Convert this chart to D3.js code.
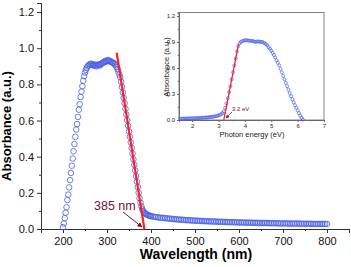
<!DOCTYPE html>
<html>
<head>
<meta charset="utf-8">
<script src="https://cdn.jsdelivr.net/npm/d3@7"></script>
<style>
  body { margin: 0; background: #fff; }
  svg { display: block; font-family: "Liberation Sans", Arial, sans-serif; }
</style>
</head>
<body>
<div id="container"></div>
<script>
// main spectrum, wavelength (nm) vs absorbance, split by region
var riseNm = [200, 202, 204, 206, 208, 210, 212, 214, 216, 218, 220, 222, 224, 226, 228, 230, 232, 234, 236, 238,
  240, 242, 244, 246, 248, 250, 252, 254, 256, 258, 260]
var riseAbs = [0.01, 0.03, 0.06, 0.09, 0.12, 0.16, 0.19, 0.23, 0.27, 0.31, 0.35, 0.39, 0.43, 0.47, 0.51, 0.55, 0.58, 0.62, 0.66, 0.69,
  0.73, 0.76, 0.79, 0.82, 0.845, 0.865, 0.88, 0.89, 0.90, 0.905, 0.91]

var plateauNm = [262, 264, 266, 268, 270, 272, 274, 276, 278, 280, 282, 284, 286, 288, 290, 292, 294, 296, 298, 300,
  302, 304, 306, 308, 310, 312, 314, 316, 318, 320, 322, 324, 326]
var plateauAbs = [0.91, 0.915, 0.91, 0.905, 0.905, 0.91, 0.905, 0.90, 0.905, 0.91, 0.91, 0.905, 0.91, 0.915, 0.92, 0.92, 0.925, 0.93, 0.925, 0.93,
  0.935, 0.93, 0.93, 0.925, 0.925, 0.92, 0.92, 0.915, 0.91, 0.905, 0.895, 0.885, 0.87]

var fallNm = [328, 330, 332, 334, 336, 338, 340, 342, 344, 346, 348, 350, 352, 354, 356, 358, 360, 362, 364, 366,
  368, 370, 372, 374, 376, 378, 380, 382, 384, 386, 388, 390, 392, 394, 396, 398, 400]
var fallAbs = [0.855, 0.84, 0.815, 0.785, 0.755, 0.725, 0.695, 0.665, 0.633, 0.602, 0.571, 0.54, 0.51, 0.479, 0.448, 0.417, 0.386, 0.355, 0.324, 0.293,
  0.262, 0.232, 0.20, 0.17, 0.145, 0.125, 0.11, 0.10, 0.093, 0.088, 0.084, 0.081, 0.078, 0.076, 0.074, 0.072, 0.071]

var tailNm = [404, 408, 412, 416, 420, 424, 428, 432, 436, 440, 444, 448, 452, 456, 460, 464, 468, 472, 476, 480,
  484, 488, 492, 496, 500, 504, 508, 512, 516, 520, 524, 528, 532, 536, 540, 544, 548, 552, 556, 560,
  564, 568, 572, 576, 580, 584, 588, 592, 596, 600, 604, 608, 612, 616, 620, 624, 628, 632, 636, 640,
  644, 648, 652, 656, 660, 664, 668, 672, 676, 680, 684, 688, 692, 696, 700, 704, 708, 712, 716, 720,
  724, 728, 732, 736, 740, 744, 748, 752, 756, 760, 764, 768, 772, 776, 780, 784, 788, 792, 796, 800]
var tailAbs = [0.069, 0.067, 0.066, 0.064, 0.063, 0.062, 0.061, 0.060, 0.059, 0.058, 0.057, 0.056, 0.055, 0.054, 0.053, 0.052, 0.052, 0.051, 0.050, 0.049,
  0.049, 0.048, 0.047, 0.047, 0.046, 0.046, 0.045, 0.045, 0.044, 0.044, 0.043, 0.043, 0.042, 0.042, 0.042, 0.041, 0.041, 0.040, 0.040, 0.040,
  0.039, 0.039, 0.039, 0.038, 0.038, 0.038, 0.037, 0.037, 0.037, 0.036, 0.036, 0.036, 0.036, 0.035, 0.035, 0.035, 0.035, 0.034, 0.034, 0.034,
  0.034, 0.033, 0.033, 0.033, 0.033, 0.033, 0.032, 0.032, 0.032, 0.032, 0.032, 0.031, 0.031, 0.031, 0.031, 0.031, 0.031, 0.030, 0.030, 0.030,
  0.030, 0.030, 0.030, 0.030, 0.029, 0.029, 0.029, 0.029, 0.029, 0.029, 0.029, 0.028, 0.028, 0.028, 0.028, 0.028, 0.028, 0.028, 0.028, 0.028]

// inset: photon energy (eV) vs absorbance
var lowEv = [1.55, 1.60, 1.65, 1.70, 1.75, 1.80, 1.85, 1.90, 1.95, 2.00, 2.05, 2.10, 2.15, 2.20, 2.25, 2.30, 2.35, 2.40, 2.45, 2.50,
  2.55, 2.60, 2.65, 2.70, 2.75, 2.80, 2.85, 2.90, 2.95, 3.00, 3.05, 3.10, 3.15]
var lowAbs = [0.015, 0.015, 0.016, 0.016, 0.017, 0.017, 0.018, 0.018, 0.019, 0.019, 0.020, 0.020, 0.021, 0.022, 0.023, 0.024, 0.025, 0.026, 0.027, 0.028,
  0.029, 0.031, 0.032, 0.034, 0.036, 0.038, 0.041, 0.044, 0.048, 0.053, 0.059, 0.067, 0.080]
var edgeEv = [3.20, 3.25, 3.30, 3.35, 3.40, 3.45, 3.50, 3.55, 3.60, 3.65, 3.70, 3.75, 3.80, 3.85, 3.90]
var edgeAbs = [0.10, 0.14, 0.19, 0.25, 0.32, 0.39, 0.47, 0.55, 0.63, 0.71, 0.79, 0.85, 0.885, 0.90, 0.91]
var highEv = [3.95, 4.00, 4.05, 4.10, 4.15, 4.20, 4.25, 4.30, 4.35, 4.40, 4.45, 4.50, 4.55, 4.60, 4.65, 4.70, 4.75, 4.80,
  4.85, 4.90, 4.95, 5.00, 5.05, 5.10, 5.15, 5.20, 5.25, 5.30, 5.35, 5.40, 5.45, 5.50, 5.55, 5.60, 5.65, 5.70,
  5.75, 5.80, 5.85, 5.90, 5.95, 6.00, 6.05, 6.10, 6.15, 6.20]
var highAbs = [0.915, 0.92, 0.92, 0.918, 0.915, 0.915, 0.912, 0.91, 0.905, 0.90, 0.905, 0.905, 0.905, 0.90, 0.90, 0.895, 0.885, 0.875,
  0.86, 0.84, 0.82, 0.80, 0.775, 0.75, 0.72, 0.69, 0.66, 0.63, 0.59, 0.55, 0.51, 0.47, 0.43, 0.39, 0.35, 0.31,
  0.275, 0.24, 0.205, 0.17, 0.14, 0.11, 0.08, 0.05, 0.025, 0.005]

var mainTicksX = [200, 300, 400, 500, 600, 700, 800]
var mainMinorX = [150, 250, 350, 450, 550, 650, 750, 850]
var mainTicksY = [0.0, 0.2, 0.4, 0.6, 0.8, 1.0, 1.2]
var mainMinorY = [0.1, 0.3, 0.5, 0.7, 0.9, 1.1]
var insetTicksX = [2, 3, 4, 5, 6, 7]
var insetMinorX = [2.5, 3.5, 4.5, 5.5, 6.5]
var insetTicksY = [0.0, 0.3, 0.6, 0.9, 1.2]
var insetMinorY = [0.15, 0.45, 0.75, 1.05]

// fitted tangent lines at the band edge
var edgeLine = [{x: 322, y: 0.975}, {x: 385, y: 0}]
var insetEdgeLine = [{x: 3.2, y: 0}, {x: 3.76, y: 0.88}]

var W = 351, H = 267
var blue = '#4a5ee6', red = '#ff2222', maroon = '#7a1035'

var mainPts = d3.zip(riseNm.concat(plateauNm, fallNm, tailNm), riseAbs.concat(plateauAbs, fallAbs, tailAbs))
var insetPts = d3.zip(lowEv.concat(edgeEv, highEv), lowAbs.concat(edgeAbs, highAbs))

var svg = d3.select('#container').append('svg')
  .attr('width', W).attr('height', H)

svg.append('defs').append('marker')
  .attr('id', 'arr').attr('viewBox', '0 0 10 10')
  .attr('refX', 9).attr('refY', 5)
  .attr('markerWidth', 5).attr('markerHeight', 5)
  .attr('orient', 'auto')
  .append('path').attr('d', 'M0,0 L10,5 L0,10 z').attr('fill', maroon)

// ---- main chart ----
var x = d3.scaleLinear().domain([150, 850]).range([41, 349])
var y = d3.scaleLinear().domain([0, 1.25]).range([229, 3])

var xAxis = svg.append('g').attr('transform', 'translate(0,229)')
  .call(d3.axisBottom(x).tickValues(mainTicksX).tickSize(4).tickPadding(4).tickFormat(d3.format('d')))
xAxis.append('g').call(d3.axisBottom(x).tickValues(mainMinorX).tickSize(2).tickFormat(''))
var yAxis = svg.append('g').attr('transform', 'translate(41,0)')
  .call(d3.axisLeft(y).tickValues(mainTicksY).tickSize(4).tickPadding(3).tickFormat(d3.format('.1f')))
yAxis.append('g').call(d3.axisLeft(y).tickValues(mainMinorY).tickSize(2).tickFormat(''))

svg.selectAll('.domain').attr('stroke', '#333')
svg.selectAll('.tick line').attr('stroke', '#333')
xAxis.selectAll('text').attr('font-size', 11).attr('fill', '#111')
yAxis.selectAll('text').attr('font-size', 11).attr('fill', '#111')

svg.append('text').attr('x', 196).attr('y', 259).attr('text-anchor', 'middle')
  .attr('font-size', 14).attr('font-weight', 'bold').text('Wavelength (nm)')
svg.append('text').attr('transform', 'translate(11,126) rotate(-90)').attr('text-anchor', 'middle')
  .attr('font-size', 13).attr('font-weight', 'bold').text('Absorbance (a.u.)')

svg.append('g').selectAll('circle')
  .data(mainPts).enter().append('circle')
  .attr('cx', d => x(d[0])).attr('cy', d => y(d[1])).attr('r', 2.8)
  .attr('fill', 'none').attr('stroke', blue).attr('stroke-width', 0.8)

svg.append('path').datum(edgeLine)
  .attr('d', d3.line().x(d => x(d.x)).y(d => y(d.y)))
  .attr('stroke', red).attr('stroke-width', 2.2).attr('fill', 'none')

svg.append('text').attr('x', 94).attr('y', 210).attr('font-size', 12.5).attr('fill', maroon).text('385 nm')
svg.append('line').attr('x1', 123).attr('y1', 212).attr('x2', 142).attr('y2', 227)
  .attr('stroke', maroon).attr('stroke-width', 1).attr('marker-end', 'url(#arr)')

// ---- inset ----
var ix = d3.scaleLinear().domain([1.5, 7]).range([179, 324])
var iy = d3.scaleLinear().domain([0, 1.24]).range([120, 12.5])
var inset = svg.append('g')

inset.append('rect').attr('x', 179).attr('y', 12.5).attr('width', 145).attr('height', 107.5)
  .attr('fill', 'none').attr('stroke', '#666').attr('stroke-width', 0.8)

var ixAxis = inset.append('g').attr('transform', 'translate(0,120)')
  .call(d3.axisBottom(ix).tickValues(insetTicksX).tickSize(2).tickPadding(2).tickFormat(d3.format('d')))
ixAxis.append('g').call(d3.axisBottom(ix).tickValues(insetMinorX).tickSize(1.2).tickFormat(''))
var iyAxis = inset.append('g').attr('transform', 'translate(179,0)')
  .call(d3.axisLeft(iy).tickValues(insetTicksY).tickSize(2).tickPadding(2).tickFormat(d3.format('.1f')))
iyAxis.append('g').call(d3.axisLeft(iy).tickValues(insetMinorY).tickSize(1.2).tickFormat(''))
inset.selectAll('.domain').attr('stroke', '#666').attr('stroke-width', 0.8)
inset.selectAll('.tick line').attr('stroke', '#666')
inset.selectAll('.tick text').attr('font-size', 6).attr('fill', '#222')

inset.append('text').attr('x', 252).attr('y', 137).attr('text-anchor', 'middle')
  .attr('font-size', 7.5).attr('fill', '#222').text('Photon energy (eV)')
inset.append('text').attr('transform', 'translate(169,67) rotate(-90)').attr('text-anchor', 'middle')
  .attr('font-size', 7.5).attr('fill', '#222').text('Absorbance (a.u.)')

inset.append('g').selectAll('circle')
  .data(insetPts).enter().append('circle')
  .attr('cx', d => ix(d[0])).attr('cy', d => iy(d[1])).attr('r', 1.5)
  .attr('fill', 'none').attr('stroke', blue).attr('stroke-width', 0.7)

inset.append('path').datum(insetEdgeLine)
  .attr('d', d3.line().x(d => ix(d.x)).y(d => iy(d.y)))
  .attr('stroke', red).attr('stroke-width', 1.3).attr('fill', 'none')

inset.append('text').attr('x', 232).attr('y', 111).attr('font-size', 6).attr('fill', maroon).text('3.2 eV')
inset.append('line').attr('x1', 232).attr('y1', 112).attr('x2', 226).attr('y2', 118)
  .attr('stroke', maroon).attr('stroke-width', 0.7).attr('marker-end', 'url(#arr)')
</script>
</body>
</html>
